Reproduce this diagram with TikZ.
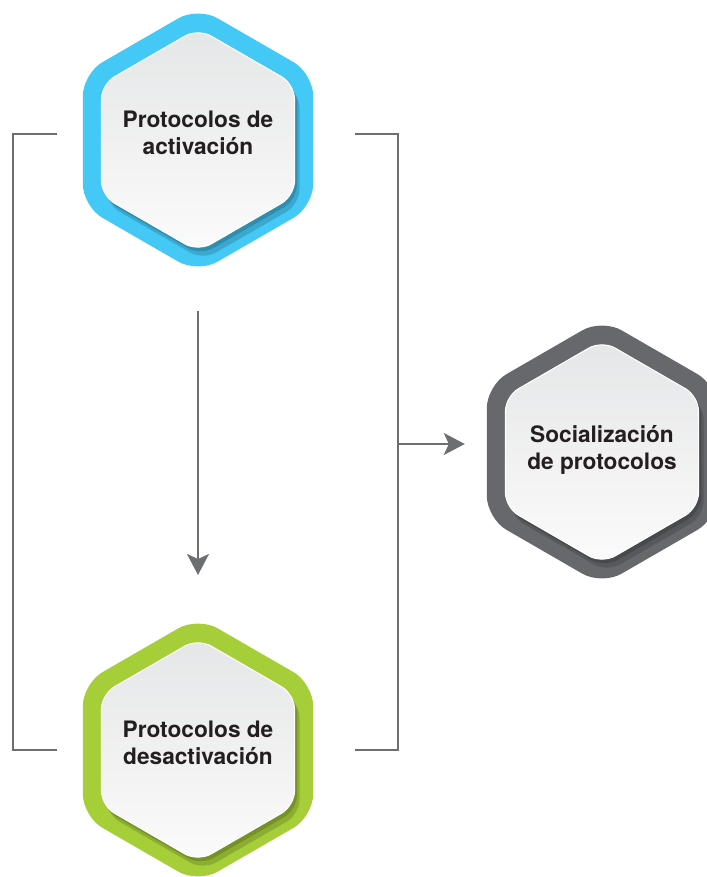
\documentclass[tikz,border=0pt]{standalone}
\usepackage{fontspec}
\setmainfont{TeX Gyre Heros}
\usetikzlibrary{shapes.geometric,arrows.meta}
\definecolor{hexblue}{HTML}{44C8F5}
\definecolor{hexgreen}{HTML}{A6CE39}
\definecolor{hexgray}{HTML}{66686C}
\definecolor{linegray}{HTML}{6D6E71}
\definecolor{txtdark}{HTML}{231F20}
\definecolor{facetop}{HTML}{E5E6E7}
\definecolor{facebot}{HTML}{FBFBFB}

\begin{document}
\begin{tikzpicture}[
  hexout/.style={regular polygon,regular polygon sides=6,shape border rotate=30,minimum size=5.32cm,inner sep=0pt,outer sep=0pt,rounded corners=0.45cm},
  hexin/.style={regular polygon,regular polygon sides=6,shape border rotate=30,minimum size=4.46cm,inner sep=0pt,outer sep=0pt,rounded corners=0.3cm},
  hexface/.style={hexin,top color=facetop,bottom color=facebot,draw=white,line width=0.6pt},
  hextext/.style={align=center,font=\fontsize{12.9}{15.3}\selectfont\bfseries,text=txtdark},
  conn/.style={draw=linegray,line width=1.1pt},
  >={Stealth[length=4.2mm,width=4.4mm,inset=1mm]}
]
\useasboundingbox (0,0) rectangle (14.14,17.54);

% hexagons
\node[hexout,fill=hexblue] (act) at (3.96,14.74) {};
\node[hexin,fill=hexblue!50!black,opacity=0.3] (actsha) at ([shift={(0.1,-0.17)}]act) {};
\node[hexin,fill=hexblue!50!black,opacity=0.4] (actshb) at ([shift={(0.05,-0.08)}]act) {};
\node[hexface] (actin) at (act) {};
\node[hextext] (acttxt) at ([yshift=0.14cm]act) {Protocolos de\\activación};

\node[hexout,fill=hexgreen] (des) at (3.96,2.54) {};
\node[hexin,fill=hexgreen!50!black,opacity=0.3] (dessha) at ([shift={(0.1,-0.17)}]des) {};
\node[hexin,fill=hexgreen!50!black,opacity=0.4] (desshb) at ([shift={(0.05,-0.08)}]des) {};
\node[hexface] (desin) at (des) {};
\node[hextext] (destxt) at ([yshift=0.15cm]des) {Protocolos de\\desactivación};

\node[hexout,fill=hexgray] (soc) at (12.04,8.50) {};
\node[hexin,fill=hexgray!50!black,opacity=0.3] (socsha) at ([shift={(0.1,-0.17)}]soc) {};
\node[hexin,fill=hexgray!50!black,opacity=0.4] (socshb) at ([shift={(0.05,-0.08)}]soc) {};
\node[hexface] (socin) at (soc) {};
\node[hextext] (soctxt) at ([yshift=0.04cm]soc) {Socialización\\de protocolos};

% brackets
\coordinate (lt) at (1.14,14.86);
\coordinate (lx) at (0.26,14.86);
\coordinate (lb) at (1.14,2.54);
\coordinate (rt) at (7.10,14.86);
\coordinate (rx) at (7.96,14.86);
\coordinate (rb) at (7.10,2.54);
\coordinate (rm) at (7.96,8.66);

\draw[conn] (lt) -- (lx) |- (lb);
\draw[conn] (rt) -- (rx) |- (rb);
\draw[conn,->] (rm) -- ([xshift=-0.44cm,yshift=0.16cm]soc.west);
\draw[conn,->] ([yshift=-0.76cm]act.south) -- ([yshift=0.84cm]des.north);
\end{tikzpicture}
\end{document}
